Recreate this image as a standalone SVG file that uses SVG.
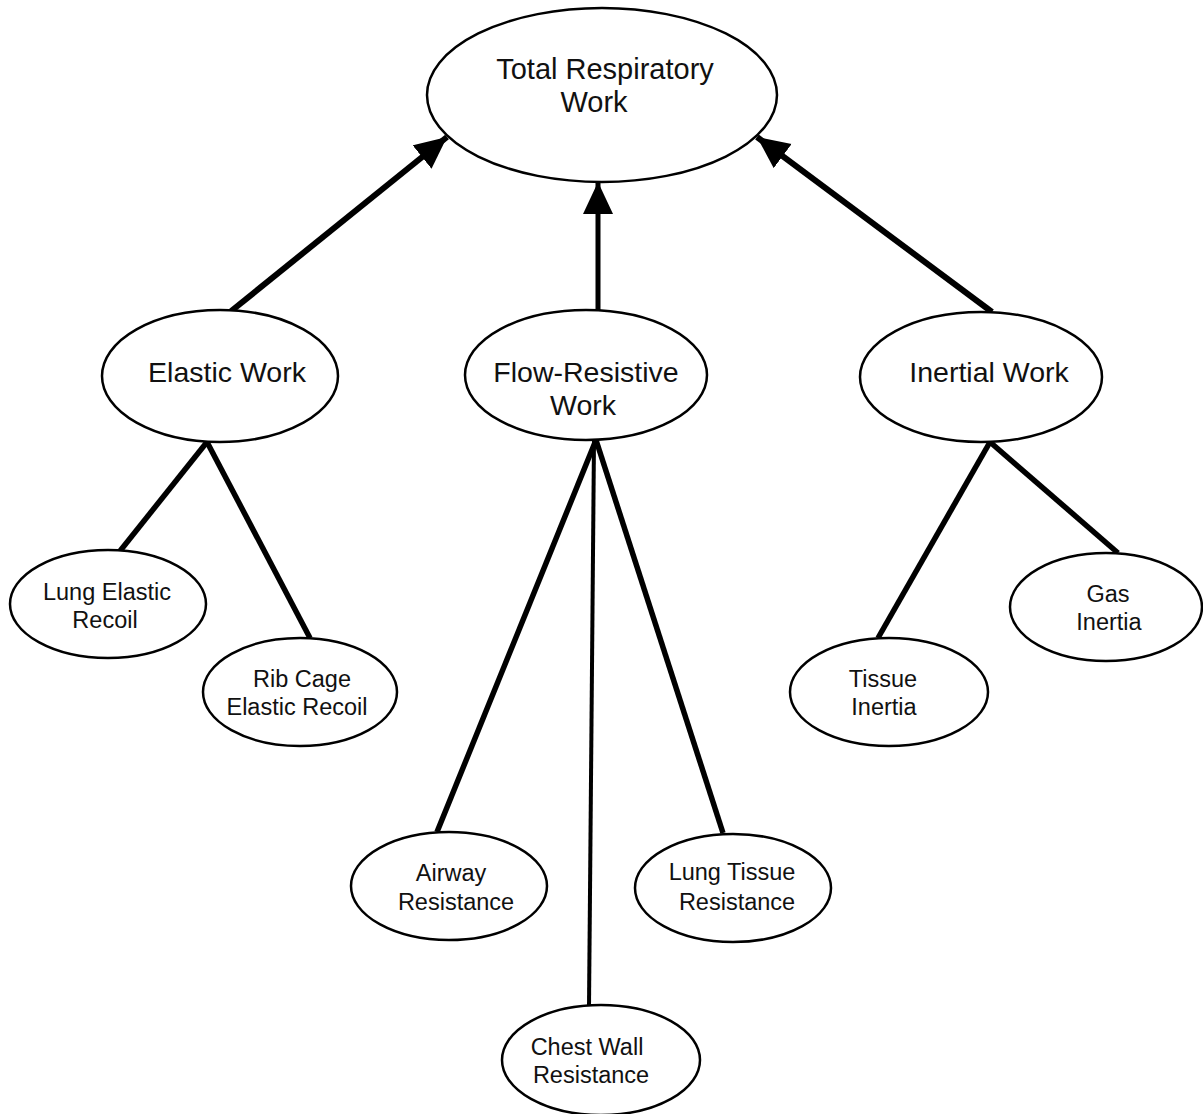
<svg xmlns="http://www.w3.org/2000/svg" width="1203" height="1114" viewBox="0 0 1203 1114">
<style>
.node ellipse{fill:#fff;stroke:#000;stroke-width:2.5}
text{font-family:"Liberation Sans",Arial,sans-serif;fill:#111;text-anchor:middle}
.t1{font-size:29px}
.t2{font-size:28.5px}
.t3{font-size:23.5px}
.edge{stroke:#000;stroke-linecap:butt;fill:none}
</style>
<defs>
<marker id="arrow" markerUnits="userSpaceOnUse" markerWidth="34" markerHeight="32" refX="32" refY="15" orient="auto">
<path d="M0,0 L32,15 L0,30 Z" fill="#000"/>
</marker>
</defs>
<rect width="1203" height="1114" fill="#fff"/>
<g id="connectors">
<line class="edge" x1="230" y1="312" x2="447" y2="137" stroke-width="6" marker-end="url(#arrow)"/>
<line class="edge" x1="598" y1="311" x2="598" y2="182" stroke-width="5" marker-end="url(#arrow)"/>
<line class="edge" x1="992" y1="312" x2="757" y2="137" stroke-width="6" marker-end="url(#arrow)"/>
<line class="edge" x1="207" y1="442" x2="120" y2="551" stroke-width="5.5"/>
<line class="edge" x1="207" y1="442" x2="310" y2="638" stroke-width="5.5"/>
<line class="edge" x1="596" y1="440" x2="437" y2="832" stroke-width="5.5"/>
<line class="edge" x1="594" y1="440" x2="589" y2="1006" stroke-width="4"/>
<line class="edge" x1="596" y1="440" x2="723" y2="833" stroke-width="5.5"/>
<line class="edge" x1="990" y1="442" x2="878" y2="638" stroke-width="5.5"/>
<line class="edge" x1="990" y1="442" x2="1118" y2="553" stroke-width="5.5"/>
</g>
<g id="total" class="node">
<ellipse cx="602" cy="95" rx="175" ry="87"/>
<text class="t1" x="605" y="79">Total Respiratory</text>
<text class="t1" x="594" y="112">Work</text>
</g>
<g id="elastic" class="node">
<ellipse cx="220" cy="376" rx="118" ry="66"/>
<text class="t2" x="227" y="382">Elastic Work</text>
</g>
<g id="flow" class="node">
<ellipse cx="586" cy="375" rx="121" ry="65"/>
<text class="t2" x="586" y="382">Flow-Resistive</text>
<text class="t2" x="583" y="415">Work</text>
</g>
<g id="inertial" class="node">
<ellipse cx="981" cy="377" rx="121" ry="65"/>
<text class="t2" x="989" y="382">Inertial Work</text>
</g>
<g id="lung-elastic" class="node">
<ellipse cx="108" cy="604" rx="98" ry="54"/>
<text class="t3" x="107" y="600">Lung Elastic</text>
<text class="t3" x="105" y="628">Recoil</text>
</g>
<g id="rib-cage" class="node">
<ellipse cx="300" cy="692" rx="97" ry="54"/>
<text class="t3" x="302" y="687">Rib Cage</text>
<text class="t3" x="297" y="715">Elastic Recoil</text>
</g>
<g id="airway" class="node">
<ellipse cx="449" cy="886" rx="98" ry="54"/>
<text class="t3" x="451" y="881">Airway</text>
<text class="t3" x="456" y="910">Resistance</text>
</g>
<g id="chest-wall" class="node">
<ellipse cx="601" cy="1060" rx="99" ry="55"/>
<text class="t3" x="587" y="1055">Chest Wall</text>
<text class="t3" x="591" y="1083">Resistance</text>
</g>
<g id="lung-tissue" class="node">
<ellipse cx="733" cy="888" rx="98" ry="54"/>
<text class="t3" x="732" y="880">Lung Tissue</text>
<text class="t3" x="737" y="910">Resistance</text>
</g>
<g id="tissue-inertia" class="node">
<ellipse cx="889" cy="692" rx="99" ry="54"/>
<text class="t3" x="883" y="687">Tissue</text>
<text class="t3" x="884" y="715">Inertia</text>
</g>
<g id="gas-inertia" class="node">
<ellipse cx="1106" cy="607" rx="96" ry="54"/>
<text class="t3" x="1108" y="602">Gas</text>
<text class="t3" x="1109" y="630">Inertia</text>
</g>
</svg>
